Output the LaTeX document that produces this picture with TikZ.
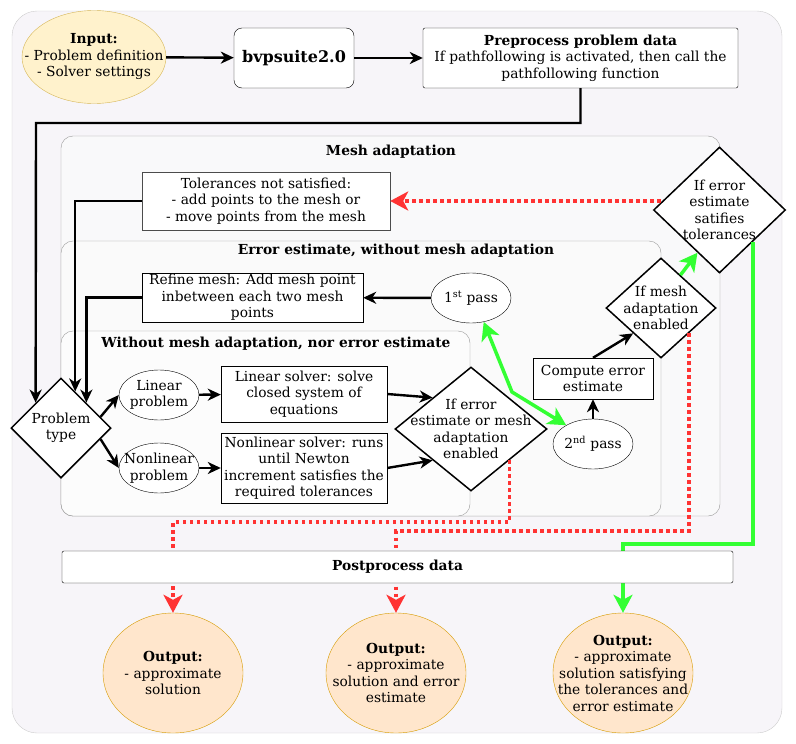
\documentclass[tikz,border=0pt]{standalone}
\usepackage{fontspec}
\setmainfont{DejaVu Serif}
\usepackage{tikz}
\usetikzlibrary{shapes.geometric,arrows.meta,calc}
\definecolor{panelgray}{RGB}{247,245,249}
\definecolor{meshfill}{RGB}{249,249,250}
\definecolor{errfill}{RGB}{250,250,250}
\definecolor{plainfill}{RGB}{252,252,252}
\definecolor{inputfill}{HTML}{FFF2CC}
\definecolor{inputline}{HTML}{D6B656}
\definecolor{outputfill}{HTML}{FFE6CC}
\definecolor{outputline}{HTML}{D79B00}
\definecolor{okgreen}{HTML}{33FF33}
\definecolor{failred}{HTML}{FF3333}

\begin{document}
\begin{tikzpicture}[x=1pt,y=-1pt,
    font=\fontsize{13.8}{16.5}\selectfont,
    group/.style={draw=black!40, rounded corners=12pt},
    grouptitle/.style={font=\fontsize{13.8}{16.5}\selectfont\bfseries},
    procbox/.style={draw, fill=white, align=center, inner sep=1pt},
    shapeonly/.style={draw, fill=white, inner sep=0pt, label={[align=center]center:#1}},
    oval/.style={ellipse, shapeonly=#1},
    decision/.style={diamond, line width=1.5pt, shapeonly=#1},
    outbox/.style={oval=#1, fill=outputfill, draw=outputline, minimum width=140, minimum height=120},
    flow/.style={line width=2.4pt, >={Stealth[length=13pt,width=12pt,inset=4pt]}, ->},
    okflow/.style={okgreen, line width=3.5pt, >={Stealth[length=18pt,width=19pt,inset=5pt]}, ->},
    failflow/.style={failred, line width=3.5pt, dash pattern=on 3.5pt off 3.5pt,
        >={Stealth[length=18pt,width=19pt,inset=5pt]}, ->}]
    \useasboundingbox (0,0) rectangle (796,744);

    % Containers
    \draw[draw=black!20, fill=panelgray, rounded corners=25pt] (12,11) rectangle (782,733);
    \draw[group, fill=meshfill] (61,136) rectangle (720,516);
    \draw[group, fill=errfill] (61,241) rectangle (661,516);
    \draw[group, fill=plainfill] (61,331) rectangle (470,516);
    \node[grouptitle] (meshtitle) at (391,152) {Mesh adaptation};
    \node[grouptitle] (errtitle) at (396,251) {Error estimate, without mesh adaptation};
    \node[grouptitle] (plaintitle) at (276,344) {Without mesh adaptation, nor error estimate};

    % Top row
    \node[oval={\textbf{Input:}\\- Problem definition\\- Solver settings}, fill=inputfill, draw=inputline,
        minimum width=144, minimum height=93] (input) at (94,57) {};
    \node[procbox, rounded corners=8pt, minimum width=120, minimum height=60,
        font=\fontsize{16}{19}\selectfont\bfseries] (bvp) at (294,58) {bvpsuite2.0};
    \node[procbox, rounded corners=2pt, minimum width=315, minimum height=60] (prep) at (580.5,58)
        {\textbf{Preprocess problem data}\\If pathfollowing is activated, then call the\\pathfollowing function};

    % Mesh adaptation
    \node[procbox, draw=black!70, minimum width=248, minimum height=58] (tolbox) at (266,201)
        {Tolerances not satisfied:\\- add points to the mesh or\\- move points from the mesh};
    \node[decision={If error\\estimate\\satifies\\tolerances}, minimum width=132, minimum height=126] (tolcheck) at (719.5,210) {};

    % Error estimate
    \node[procbox, minimum width=221, minimum height=49] (refbox) at (252.5,297.5)
        {Refine mesh: Add mesh point\\inbetween each two mesh\\points};
    \node[oval={1\textsuperscript{st} pass}, minimum width=80, minimum height=50] (firstp) at (471,298) {};
    \node[oval={2\textsuperscript{nd} pass}, minimum width=80, minimum height=50] (secondp) at (593,444) {};
    \node[procbox, minimum width=120, minimum height=41] (compbox) at (593,378.5) {Compute error\\estimate};
    \node[decision={If mesh\\adaptation\\enabled}, minimum width=110, minimum height=100] (meshdec) at (661,308) {};

    % Solvers
    \node[decision={Problem\\type}, minimum width=100, minimum height=100] (ptype) at (61,428) {};
    \node[oval={Linear\\problem}, minimum width=80, minimum height=50] (linprob) at (159,395) {};
    \node[oval={Nonlinear\\problem}, minimum width=80, minimum height=50] (nonprob) at (159,468) {};
    \node[procbox, minimum width=166, minimum height=56] (linsolve) at (304,394)
        {Linear solver: solve\\closed system of\\equations};
    \node[procbox, minimum width=166, minimum height=70] (nonsolve) at (304,468)
        {Nonlinear solver: runs\\until Newton\\increment satisfies the\\required tolerances};
    \node[decision={If error\\estimate or mesh\\adaptation\\enabled}, minimum width=152, minimum height=124] (errdec) at (471,429) {};

    % Outputs
    \node[outbox={\textbf{Output:}\\- approximate\\solution}] (out1) at (173,673) {};
    \node[outbox={\textbf{Output:}\\- approximate\\solution and error\\estimate}] (out2) at (396,673) {};
    \node[outbox={\textbf{Output:}\\- approximate\\solution satisfying\\the tolerances and\\error estimate}] (out3) at (623,673) {};

    % Black connectors
    \draw[flow] (input) -- (bvp);
    \draw[flow] (bvp) -- (prep);
    \coordinate (toprun) at (36,123);
    \draw[flow] (prep.south) |- (toprun) -- (ptype.north west);
    \draw[flow] (tolbox.west) -| ($(ptype.north)!0.28!(ptype.east)$);
    \draw[flow] (refbox.west) -| (ptype.north east);
    \draw[flow] ($(ptype.north)!0.78!(ptype.east)$) -- (linprob.west);
    \draw[flow] ($(ptype.south)!0.78!(ptype.east)$) -- (nonprob.west);
    \draw[flow] (linprob) -- (linsolve);
    \draw[flow] (nonprob) -- (nonsolve);
    \draw[flow] (linsolve.east) -- (errdec.north west);
    \draw[flow] (nonsolve.east) -- (errdec.south west);
    \draw[flow] (firstp) -- (refbox);
    \draw[flow] (secondp) -- (compbox);
    \draw[flow] (compbox.north) -- (meshdec.south west);

    % Green connectors
    \coordinate (greenfork) at (512,392);
    \draw[okflow, <->] (firstp.-62) -- (greenfork) -- (secondp.145);
    \draw[okflow] ($(meshdec.north)!0.35!(meshdec.east)$) -- ($(tolcheck.west)!0.67!(tolcheck.south)$);
    \coordinate (greenrun) at (623,544);
    \draw[okflow] (tolcheck.south east) |- (greenrun) -- (out3.north);

    % Red connectors
    \draw[failflow] ($(tolcheck.west |- tolbox.east)+(8,0)$) -- (tolbox.east);
    \coordinate (failrun1) at (173,522);
    \draw[failflow] (errdec.south east) |- (failrun1) -- (out1.north);
    \coordinate (failrun2) at (396,531);
    \draw[failflow] (meshdec.south east) |- (failrun2) -- (out2.north);

    % Postprocess on top of the lines
    \node[procbox, rounded corners=2pt, minimum width=671, minimum height=32] (post) at (397.5,567)
        {\textbf{Postprocess data}};
\end{tikzpicture}
\end{document}
